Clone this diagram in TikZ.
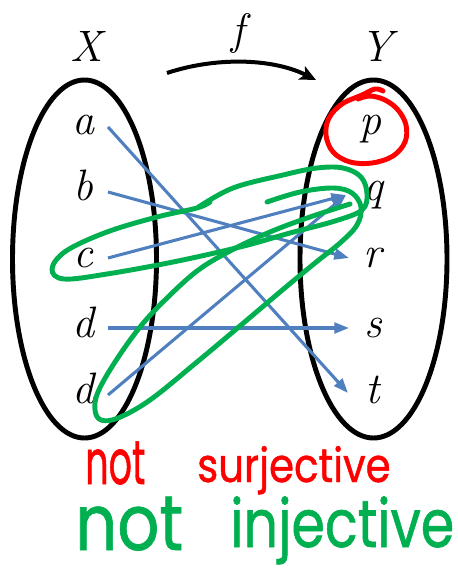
\documentclass[tikz,border=0pt]{standalone}
\usepackage{fontspec}
\usepackage{graphicx}
\usetikzlibrary{arrows.meta}
\newfontfamily\handfont[FakeBold=1]{Poppins}
\definecolor{mapblue}{HTML}{4F7FBF}
\definecolor{markgreen}{HTML}{00B050}
\definecolor{markred}{HTML}{FF0000}
\tikzset{
  setlbl/.style={font=\fontsize{33}{36}\selectfont\itshape, inner sep=0pt, anchor=base},
  elt/.style={font=\fontsize{33}{36}\selectfont\itshape, inner sep=0pt, anchor=base},
  setoval/.style={draw=black, line width=3.7pt},
  maparrow/.style={draw=mapblue, line width=2.3pt, -{Triangle[length=11pt,width=8pt]}},
  farrow/.style={draw=black, line width=3pt, -{Stealth[length=12pt,width=11pt,inset=3pt]}},
  greenloop/.style={draw=markgreen, line width=3.7pt, line cap=round, line join=round},
  redloop/.style={draw=markred, line width=3.7pt, line cap=round, line join=round},
  handword/.style={inner sep=0pt, anchor=base west}
}
\begin{document}
\begin{tikzpicture}[x=0.75pt,y=-0.75pt]
\useasboundingbox (0,0) rectangle (457,570);

% sets
\draw[setoval] (84.5,259) ellipse [x radius=72, y radius=179];
\draw[setoval] (373.5,259) ellipse [x radius=73.5, y radius=179];

% set labels
\node[setlbl] (X) at (86,62) {X};
\node[setlbl] (Y) at (376,62) {Y};
\node[setlbl] (f) at (238,45) {f};

% map arrow f
\coordinate (fs) at (167,73);
\coordinate (fe) at (316,80);
\draw[farrow] (fs) .. controls (215,57) and (272,58) .. (fe);

% elements of X
\node[elt] (a) at (83,135) {a};
\node[elt] (b) at (83,200) {b};
\node[elt] (c) at (83,267) {c};
\node[elt] (d1) at (83,337) {d};
\node[elt] (d2) at (83,403) {d};

% elements of Y
\node[elt] (p) at (370,135) {p};
\node[elt] (q) at (373,200) {q};
\node[elt] (r) at (373,267) {r};
\node[elt] (s) at (373,337) {s};
\node[elt] (t) at (373,403) {t};

% arrow end points
\coordinate (aout) at (108,127);
\coordinate (bout) at (108,192);
\coordinate (cout) at (108,258);
\coordinate (d1out) at (108,328);
\coordinate (d2out) at (108,395);
\coordinate (qin) at (346,195);
\coordinate (rin) at (349,258);
\coordinate (sin) at (349,328);
\coordinate (tin) at (348,393);

\draw[maparrow] (aout) -- (tin);
\draw[maparrow] (bout) -- (rin);
\draw[maparrow] (cout) -- (qin);
\draw[maparrow] (d1out) -- (sin);
\draw[maparrow] (d2out) -- (qin);

% green loops
\draw[greenloop] plot[smooth, tension=0.6] coordinates {
 (197,208) (233,188) (283,175) (317,168) (343,168) (361,177) (367,194) (362,210)
 (335,221) (290,233) (240,247) (173,262) (107,274) (64,279) (52,269) (66,251)
 (107,232) (157,217) (197,208) (210,202)};
\draw[greenloop] plot[smooth, tension=0.6] coordinates {
 (267,202) (300,192) (333,188) (352,193) (361,207) (357,225) (340,243) (315,263)
 (280,292) (247,320) (197,362) (150,400) (118,418) (101,420) (95,410) (98,392)
 (115,362) (140,327) (165,300) (197,271) (230,251) (270,232) (310,217) (350,204)};

% red circle round p
\draw[redloop] plot[smooth, tension=0.6] coordinates {
 (383,91) (375,89) (362,95) (342,104) (329,118) (326,135) (333,152) (350,162)
 (372,163) (393,156) (405,142) (406,125) (398,110) (385,100) (370,96) (358,99)};

% handwritten remarks
\node[handword, text=markred] (ns1) at (85,484) {\resizebox{45pt}{32pt}{\handfont not}};
\node[handword, text=markred] (ns2) at (197,482) {\resizebox{145pt}{27pt}{\handfont surjective}};
\node[handword, text=markgreen] (ni1) at (75,550) {\resizebox{81pt}{40pt}{\handfont not}};
\node[handword, text=markgreen] (ni2) at (230,547) {\resizebox{168pt}{38pt}{\handfont injective}};
\end{tikzpicture}
\end{document}
